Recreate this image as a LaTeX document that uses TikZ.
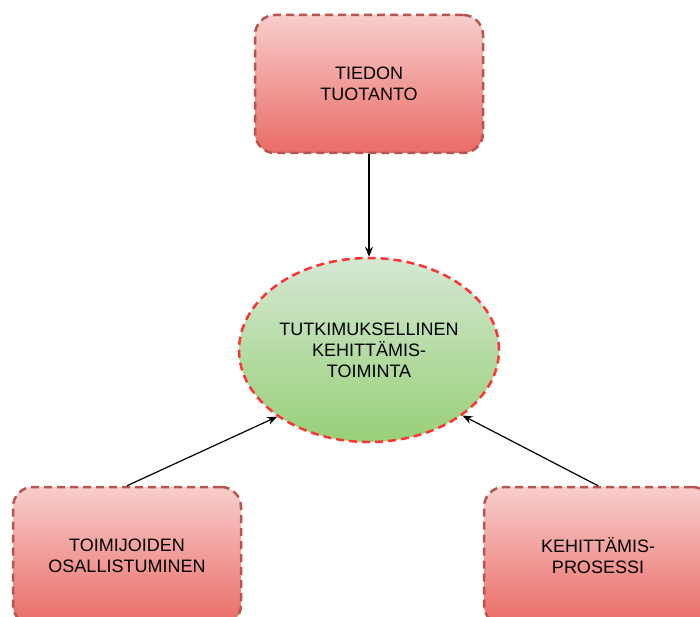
\documentclass[tikz,border=0pt]{standalone}
\usepackage{fontspec}
\setmainfont{Liberation Sans}
\usetikzlibrary{arrows.meta,shapes.geometric}
\definecolor{boxtop}{HTML}{F8CECC}
\definecolor{boxbot}{HTML}{EA6B66}
\definecolor{boxline}{HTML}{B85450}
\definecolor{elltop}{HTML}{D5E8D4}
\definecolor{ellbot}{HTML}{97D077}
\definecolor{ellline}{HTML}{FF3333}
\tikzset{
  redbox/.style={draw=boxline, line width=2.5pt, dash pattern=on 8pt off 5pt,
    rounded corners=20pt, top color=boxtop, bottom color=boxbot,
    minimum width=228pt, minimum height=138pt, inner sep=0pt,
    align=center, font=\fontsize{18}{21}\selectfont},
  greenell/.style={ellipse, draw=ellline, line width=2.5pt, dash pattern=on 8pt off 5pt,
    top color=elltop, bottom color=ellbot,
    minimum width=260pt, minimum height=184pt, inner sep=0pt,
    align=center, font=\fontsize{18}{21}\selectfont},
  conn/.style={draw=black, line width=1.2pt, -{Stealth[length=10pt,width=8pt]}}
}
\begin{document}
\begin{tikzpicture}[x=1pt,y=-1pt]
\path[use as bounding box, clip] (0,0) rectangle (700,617);
\fill[white] (0,0) rectangle (700,617);
\node[redbox] (top) at (369,84) {TIEDON\\TUOTANTO};
\node[greenell] (el) at (369,350) {TUTKIMUKSELLINEN\\KEHITTÄMIS-\\TOIMINTA};
\node[redbox] (lb) at (127,556) {TOIMIJOIDEN\\OSALLISTUMINEN};
\node[redbox] (rb) at (598,556) {KEHITTÄMIS-\\PROSESSI};
\draw[conn] (top.south) -- (el.north);
\draw[conn] (lb.north) -- (el.216);
\draw[conn] (rb.north) -- (el.325);
\end{tikzpicture}
\end{document}
